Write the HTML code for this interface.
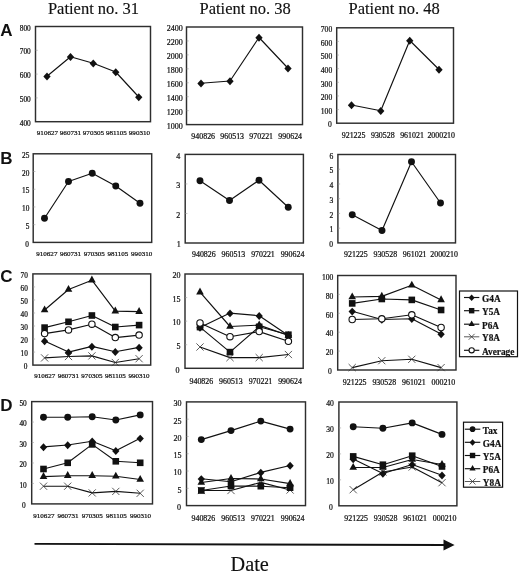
<!DOCTYPE html>
<html><head><meta charset="utf-8"><title>Figure</title>
<style>html,body{margin:0;padding:0;background:#fff;width:520px;height:573px;overflow:hidden}svg{display:block;will-change:transform}</style>
</head><body><svg width="520" height="573" viewBox="0 0 520 573"><style>.tk{font-family:"Liberation Serif",serif;fill:#111;stroke:#111;stroke-width:0.22px}.lg{font-family:"Liberation Serif",serif;font-weight:bold;font-size:9.3px;fill:#111;stroke:#111;stroke-width:0.2px}.ti{font-family:"Liberation Serif",serif;font-size:16.5px;fill:#111;stroke:#111;stroke-width:0.15px}.pl{font-family:"Liberation Sans",sans-serif;font-weight:bold;font-size:17px;fill:#111}</style><rect width="520" height="573" fill="#fff"/><text x="47.9" y="14.2" class="ti">Patient no. 31</text><text x="199.5" y="14.2" class="ti">Patient no. 38</text><text x="348.5" y="14.2" class="ti">Patient no. 48</text><text x="0.3" y="36.0" class="pl">A</text><text x="0.3" y="164.0" class="pl">B</text><text x="0.3" y="282.3" class="pl">C</text><text x="0.3" y="411.0" class="pl">D</text><rect x="35.5" y="26.5" width="115.00" height="95.20" fill="none" stroke="#2e2e2e" stroke-width="1.45"/><text x="30.70" y="30.61" text-anchor="end" class="tk" font-size="7.3">800</text><line x1="35.5" y1="50.30" x2="37.7" y2="50.30" stroke="#999" stroke-width="0.6"/><text x="30.70" y="54.41" text-anchor="end" class="tk" font-size="7.3">700</text><line x1="35.5" y1="74.10" x2="37.7" y2="74.10" stroke="#999" stroke-width="0.6"/><text x="30.70" y="78.21" text-anchor="end" class="tk" font-size="7.3">600</text><line x1="35.5" y1="97.90" x2="37.7" y2="97.90" stroke="#999" stroke-width="0.6"/><text x="30.70" y="102.01" text-anchor="end" class="tk" font-size="7.3">500</text><text x="30.70" y="125.81" text-anchor="end" class="tk" font-size="7.3">400</text><text x="47.40" y="135.20" text-anchor="middle" class="tk" font-size="7.05">910627</text><text x="70.40" y="135.20" text-anchor="middle" class="tk" font-size="7.05">960731</text><text x="93.40" y="135.20" text-anchor="middle" class="tk" font-size="7.05">970305</text><text x="116.40" y="135.20" text-anchor="middle" class="tk" font-size="7.05">981105</text><text x="139.40" y="135.20" text-anchor="middle" class="tk" font-size="7.05">990310</text><polyline points="47.00,76.25 70.50,56.75 93.25,63.25 115.75,72.00 138.75,97.00" fill="none" stroke="#111" stroke-width="1.15" stroke-linejoin="round"/><path d="M47.00 72.60L50.65 76.55L47.00 80.50L43.35 76.55Z" fill="#111"/><path d="M70.50 53.10L74.15 57.05L70.50 61.00L66.85 57.05Z" fill="#111"/><path d="M93.25 59.60L96.90 63.55L93.25 67.50L89.60 63.55Z" fill="#111"/><path d="M115.75 68.35L119.40 72.30L115.75 76.25L112.10 72.30Z" fill="#111"/><path d="M138.75 93.35L142.40 97.30L138.75 101.25L135.10 97.30Z" fill="#111"/><rect x="186.5" y="27.0" width="116.00" height="97.60" fill="none" stroke="#2e2e2e" stroke-width="1.45"/><text x="182.70" y="31.34" text-anchor="end" class="tk" font-size="8.0">2400</text><line x1="186.5" y1="40.94" x2="188.7" y2="40.94" stroke="#999" stroke-width="0.6"/><text x="182.70" y="45.28" text-anchor="end" class="tk" font-size="8.0">2200</text><line x1="186.5" y1="54.89" x2="188.7" y2="54.89" stroke="#999" stroke-width="0.6"/><text x="182.70" y="59.23" text-anchor="end" class="tk" font-size="8.0">2000</text><line x1="186.5" y1="68.83" x2="188.7" y2="68.83" stroke="#999" stroke-width="0.6"/><text x="182.70" y="73.17" text-anchor="end" class="tk" font-size="8.0">1800</text><line x1="186.5" y1="82.77" x2="188.7" y2="82.77" stroke="#999" stroke-width="0.6"/><text x="182.70" y="87.11" text-anchor="end" class="tk" font-size="8.0">1600</text><line x1="186.5" y1="96.71" x2="188.7" y2="96.71" stroke="#999" stroke-width="0.6"/><text x="182.70" y="101.05" text-anchor="end" class="tk" font-size="8.0">1400</text><line x1="186.5" y1="110.66" x2="188.7" y2="110.66" stroke="#999" stroke-width="0.6"/><text x="182.70" y="115.00" text-anchor="end" class="tk" font-size="8.0">1200</text><text x="182.70" y="128.94" text-anchor="end" class="tk" font-size="8.0">1000</text><text x="203.20" y="139.20" text-anchor="middle" class="tk" font-size="7.9">940826</text><text x="232.20" y="139.20" text-anchor="middle" class="tk" font-size="7.9">960513</text><text x="261.20" y="139.20" text-anchor="middle" class="tk" font-size="7.9">970221</text><text x="290.20" y="139.20" text-anchor="middle" class="tk" font-size="7.9">990624</text><polyline points="201.00,83.25 230.00,81.00 259.00,37.50 288.00,68.25" fill="none" stroke="#111" stroke-width="1.15" stroke-linejoin="round"/><path d="M201.00 79.60L204.65 83.55L201.00 87.50L197.35 83.55Z" fill="#111"/><path d="M230.00 77.35L233.65 81.30L230.00 85.25L226.35 81.30Z" fill="#111"/><path d="M259.00 33.85L262.65 37.80L259.00 41.75L255.35 37.80Z" fill="#111"/><path d="M288.00 64.60L291.65 68.55L288.00 72.50L284.35 68.55Z" fill="#111"/><rect x="336.7" y="27.8" width="116.80" height="95.40" fill="none" stroke="#2e2e2e" stroke-width="1.45"/><text x="332.20" y="32.01" text-anchor="end" class="tk" font-size="7.6">700</text><line x1="336.7" y1="41.43" x2="338.9" y2="41.43" stroke="#999" stroke-width="0.6"/><text x="332.20" y="45.64" text-anchor="end" class="tk" font-size="7.6">600</text><line x1="336.7" y1="55.06" x2="338.9" y2="55.06" stroke="#999" stroke-width="0.6"/><text x="332.20" y="59.27" text-anchor="end" class="tk" font-size="7.6">500</text><line x1="336.7" y1="68.69" x2="338.9" y2="68.69" stroke="#999" stroke-width="0.6"/><text x="332.20" y="72.89" text-anchor="end" class="tk" font-size="7.6">400</text><line x1="336.7" y1="82.31" x2="338.9" y2="82.31" stroke="#999" stroke-width="0.6"/><text x="332.20" y="86.52" text-anchor="end" class="tk" font-size="7.6">300</text><line x1="336.7" y1="95.94" x2="338.9" y2="95.94" stroke="#999" stroke-width="0.6"/><text x="332.20" y="100.15" text-anchor="end" class="tk" font-size="7.6">200</text><line x1="336.7" y1="109.57" x2="338.9" y2="109.57" stroke="#999" stroke-width="0.6"/><text x="332.20" y="113.78" text-anchor="end" class="tk" font-size="7.6">100</text><text x="331.70" y="127.41" text-anchor="end" class="tk" font-size="7.6">0</text><text x="353.60" y="137.60" text-anchor="middle" class="tk" font-size="7.9">921225</text><text x="382.80" y="137.60" text-anchor="middle" class="tk" font-size="7.9">930528</text><text x="412.00" y="137.60" text-anchor="middle" class="tk" font-size="7.9">961021</text><text x="441.20" y="137.60" text-anchor="middle" class="tk" font-size="7.9">2000210</text><polyline points="351.50,105.00 380.75,110.75 409.75,40.50 439.00,69.50" fill="none" stroke="#111" stroke-width="1.15" stroke-linejoin="round"/><path d="M351.50 101.35L355.15 105.30L351.50 109.25L347.85 105.30Z" fill="#111"/><path d="M380.75 107.10L384.40 111.05L380.75 115.00L377.10 111.05Z" fill="#111"/><path d="M409.75 36.85L413.40 40.80L409.75 44.75L406.10 40.80Z" fill="#111"/><path d="M439.00 65.85L442.65 69.80L439.00 73.75L435.35 69.80Z" fill="#111"/><rect x="33.2" y="153.8" width="118.50" height="88.60" fill="none" stroke="#2e2e2e" stroke-width="1.45"/><text x="29.40" y="157.91" text-anchor="end" class="tk" font-size="7.3">25</text><line x1="33.2" y1="171.52" x2="35.400000000000006" y2="171.52" stroke="#999" stroke-width="0.6"/><text x="29.40" y="175.63" text-anchor="end" class="tk" font-size="7.3">20</text><line x1="33.2" y1="189.24" x2="35.400000000000006" y2="189.24" stroke="#999" stroke-width="0.6"/><text x="29.40" y="193.35" text-anchor="end" class="tk" font-size="7.3">15</text><line x1="33.2" y1="206.96" x2="35.400000000000006" y2="206.96" stroke="#999" stroke-width="0.6"/><text x="29.40" y="211.07" text-anchor="end" class="tk" font-size="7.3">10</text><line x1="33.2" y1="224.68" x2="35.400000000000006" y2="224.68" stroke="#999" stroke-width="0.6"/><text x="29.40" y="228.79" text-anchor="end" class="tk" font-size="7.3">5</text><text x="28.90" y="246.51" text-anchor="end" class="tk" font-size="7.3">0</text><text x="46.85" y="256.00" text-anchor="middle" class="tk" font-size="7.05">910627</text><text x="70.55" y="256.00" text-anchor="middle" class="tk" font-size="7.05">960731</text><text x="94.25" y="256.00" text-anchor="middle" class="tk" font-size="7.05">970305</text><text x="117.95" y="256.00" text-anchor="middle" class="tk" font-size="7.05">981105</text><text x="141.65" y="256.00" text-anchor="middle" class="tk" font-size="7.05">990310</text><polyline points="44.50,218.25 68.50,181.50 92.25,173.25 115.75,186.00 140.00,203.25" fill="none" stroke="#111" stroke-width="1.15" stroke-linejoin="round"/><circle cx="44.50" cy="218.25" r="3.45" fill="#111"/><circle cx="68.50" cy="181.50" r="3.45" fill="#111"/><circle cx="92.25" cy="173.25" r="3.45" fill="#111"/><circle cx="115.75" cy="186.00" r="3.45" fill="#111"/><circle cx="140.00" cy="203.25" r="3.45" fill="#111"/><rect x="185.2" y="154.4" width="118.20" height="88.60" fill="none" stroke="#2e2e2e" stroke-width="1.45"/><text x="180.20" y="158.74" text-anchor="end" class="tk" font-size="8.0">4</text><line x1="185.2" y1="183.93" x2="187.39999999999998" y2="183.93" stroke="#999" stroke-width="0.6"/><text x="180.20" y="188.27" text-anchor="end" class="tk" font-size="8.0">3</text><line x1="185.2" y1="213.47" x2="187.39999999999998" y2="213.47" stroke="#999" stroke-width="0.6"/><text x="180.20" y="217.81" text-anchor="end" class="tk" font-size="8.0">2</text><text x="180.70" y="247.34" text-anchor="end" class="tk" font-size="8.0">1</text><text x="203.88" y="257.40" text-anchor="middle" class="tk" font-size="7.9">940826</text><text x="233.42" y="257.40" text-anchor="middle" class="tk" font-size="7.9">960513</text><text x="262.97" y="257.40" text-anchor="middle" class="tk" font-size="7.9">970221</text><text x="292.52" y="257.40" text-anchor="middle" class="tk" font-size="7.9">990624</text><polyline points="200.00,180.75 229.50,200.50 259.00,180.25 288.25,207.25" fill="none" stroke="#111" stroke-width="1.15" stroke-linejoin="round"/><circle cx="200.00" cy="180.75" r="3.45" fill="#111"/><circle cx="229.50" cy="200.50" r="3.45" fill="#111"/><circle cx="259.00" cy="180.25" r="3.45" fill="#111"/><circle cx="288.25" cy="207.25" r="3.45" fill="#111"/><rect x="337.9" y="154.5" width="117.60" height="88.40" fill="none" stroke="#2e2e2e" stroke-width="1.45"/><text x="333.40" y="158.71" text-anchor="end" class="tk" font-size="7.6">6</text><line x1="337.9" y1="169.23" x2="340.09999999999997" y2="169.23" stroke="#999" stroke-width="0.6"/><text x="333.40" y="173.44" text-anchor="end" class="tk" font-size="7.6">5</text><line x1="337.9" y1="183.97" x2="340.09999999999997" y2="183.97" stroke="#999" stroke-width="0.6"/><text x="333.40" y="188.17" text-anchor="end" class="tk" font-size="7.6">4</text><line x1="337.9" y1="198.70" x2="340.09999999999997" y2="198.70" stroke="#999" stroke-width="0.6"/><text x="333.40" y="202.91" text-anchor="end" class="tk" font-size="7.6">3</text><line x1="337.9" y1="213.43" x2="340.09999999999997" y2="213.43" stroke="#999" stroke-width="0.6"/><text x="333.40" y="217.64" text-anchor="end" class="tk" font-size="7.6">2</text><line x1="337.9" y1="228.17" x2="340.09999999999997" y2="228.17" stroke="#999" stroke-width="0.6"/><text x="333.40" y="232.37" text-anchor="end" class="tk" font-size="7.6">1</text><text x="333.10" y="247.11" text-anchor="end" class="tk" font-size="7.6">0</text><text x="355.90" y="257.40" text-anchor="middle" class="tk" font-size="7.9">921225</text><text x="385.30" y="257.40" text-anchor="middle" class="tk" font-size="7.9">930528</text><text x="414.70" y="257.40" text-anchor="middle" class="tk" font-size="7.9">961021</text><text x="444.10" y="257.40" text-anchor="middle" class="tk" font-size="7.9">2000210</text><polyline points="352.25,214.75 382.00,230.50 411.50,161.75 440.50,203.00" fill="none" stroke="#111" stroke-width="1.15" stroke-linejoin="round"/><circle cx="352.25" cy="214.75" r="3.45" fill="#111"/><circle cx="382.00" cy="230.50" r="3.45" fill="#111"/><circle cx="411.50" cy="161.75" r="3.45" fill="#111"/><circle cx="440.50" cy="203.00" r="3.45" fill="#111"/><rect x="32.9" y="273.9" width="117.80" height="91.20" fill="none" stroke="#2e2e2e" stroke-width="1.45"/><text x="27.90" y="278.01" text-anchor="end" class="tk" font-size="7.3">70</text><line x1="32.9" y1="286.93" x2="35.1" y2="286.93" stroke="#999" stroke-width="0.6"/><text x="27.90" y="291.04" text-anchor="end" class="tk" font-size="7.3">60</text><line x1="32.9" y1="299.96" x2="35.1" y2="299.96" stroke="#999" stroke-width="0.6"/><text x="27.90" y="304.07" text-anchor="end" class="tk" font-size="7.3">50</text><line x1="32.9" y1="312.99" x2="35.1" y2="312.99" stroke="#999" stroke-width="0.6"/><text x="27.90" y="317.09" text-anchor="end" class="tk" font-size="7.3">40</text><line x1="32.9" y1="326.01" x2="35.1" y2="326.01" stroke="#999" stroke-width="0.6"/><text x="27.90" y="330.12" text-anchor="end" class="tk" font-size="7.3">30</text><line x1="32.9" y1="339.04" x2="35.1" y2="339.04" stroke="#999" stroke-width="0.6"/><text x="27.90" y="343.15" text-anchor="end" class="tk" font-size="7.3">20</text><line x1="32.9" y1="352.07" x2="35.1" y2="352.07" stroke="#999" stroke-width="0.6"/><text x="27.90" y="356.18" text-anchor="end" class="tk" font-size="7.3">10</text><text x="27.40" y="369.21" text-anchor="end" class="tk" font-size="7.3">0</text><text x="44.78" y="378.20" text-anchor="middle" class="tk" font-size="7.05">910627</text><text x="68.34" y="378.20" text-anchor="middle" class="tk" font-size="7.05">960731</text><text x="91.90" y="378.20" text-anchor="middle" class="tk" font-size="7.05">970305</text><text x="115.46" y="378.20" text-anchor="middle" class="tk" font-size="7.05">981105</text><text x="139.02" y="378.20" text-anchor="middle" class="tk" font-size="7.05">990310</text><polyline points="44.60,341.00 68.50,352.10 91.90,346.40 115.30,351.70 139.10,347.40" fill="none" stroke="#111" stroke-width="1.15" stroke-linejoin="round"/><polyline points="44.60,327.60 68.50,321.80 91.90,315.50 115.30,327.00 139.10,325.10" fill="none" stroke="#111" stroke-width="1.15" stroke-linejoin="round"/><polyline points="44.60,310.00 68.50,289.50 91.90,280.20 115.30,311.10 139.10,311.60" fill="none" stroke="#111" stroke-width="1.15" stroke-linejoin="round"/><polyline points="44.60,357.90 68.50,356.50 91.90,355.90 115.30,362.50 139.10,358.70" fill="none" stroke="#111" stroke-width="1.15" stroke-linejoin="round"/><polyline points="44.60,333.60 68.50,329.90 91.90,324.20 115.30,337.60 139.10,335.10" fill="none" stroke="#111" stroke-width="1.15" stroke-linejoin="round"/><path d="M41.00 354.30L48.20 361.50M48.20 354.30L41.00 361.50" stroke="#333" stroke-width="0.8" fill="none"/><path d="M64.90 352.90L72.10 360.10M72.10 352.90L64.90 360.10" stroke="#333" stroke-width="0.8" fill="none"/><path d="M88.30 352.30L95.50 359.50M95.50 352.30L88.30 359.50" stroke="#333" stroke-width="0.8" fill="none"/><path d="M111.70 358.90L118.90 366.10M118.90 358.90L111.70 366.10" stroke="#333" stroke-width="0.8" fill="none"/><path d="M135.50 355.10L142.70 362.30M142.70 355.10L135.50 362.30" stroke="#333" stroke-width="0.8" fill="none"/><path d="M44.60 337.35L48.25 341.30L44.60 345.25L40.95 341.30Z" fill="#111"/><path d="M68.50 348.45L72.15 352.40L68.50 356.35L64.85 352.40Z" fill="#111"/><path d="M91.90 342.75L95.55 346.70L91.90 350.65L88.25 346.70Z" fill="#111"/><path d="M115.30 348.05L118.95 352.00L115.30 355.95L111.65 352.00Z" fill="#111"/><path d="M139.10 343.75L142.75 347.70L139.10 351.65L135.45 347.70Z" fill="#111"/><rect x="41.30" y="324.30" width="6.60" height="6.60" fill="#111"/><rect x="65.20" y="318.50" width="6.60" height="6.60" fill="#111"/><rect x="88.60" y="312.20" width="6.60" height="6.60" fill="#111"/><rect x="112.00" y="323.70" width="6.60" height="6.60" fill="#111"/><rect x="135.80" y="321.80" width="6.60" height="6.60" fill="#111"/><path d="M44.60 305.40L48.40 312.30L40.80 312.30Z" fill="#111"/><path d="M68.50 284.90L72.30 291.80L64.70 291.80Z" fill="#111"/><path d="M91.90 275.60L95.70 282.50L88.10 282.50Z" fill="#111"/><path d="M115.30 306.50L119.10 313.40L111.50 313.40Z" fill="#111"/><path d="M139.10 307.00L142.90 313.90L135.30 313.90Z" fill="#111"/><circle cx="44.60" cy="333.60" r="3.20" fill="#fff" stroke="#111" stroke-width="1.1"/><circle cx="68.50" cy="329.90" r="3.20" fill="#fff" stroke="#111" stroke-width="1.1"/><circle cx="91.90" cy="324.20" r="3.20" fill="#fff" stroke="#111" stroke-width="1.1"/><circle cx="115.30" cy="337.60" r="3.20" fill="#fff" stroke="#111" stroke-width="1.1"/><circle cx="139.10" cy="335.10" r="3.20" fill="#fff" stroke="#111" stroke-width="1.1"/><rect x="185.0" y="274.0" width="118.20" height="94.30" fill="none" stroke="#2e2e2e" stroke-width="1.45"/><text x="180.50" y="278.34" text-anchor="end" class="tk" font-size="8.0">20</text><line x1="185.0" y1="297.57" x2="187.2" y2="297.57" stroke="#999" stroke-width="0.6"/><text x="180.50" y="301.91" text-anchor="end" class="tk" font-size="8.0">15</text><line x1="185.0" y1="321.15" x2="187.2" y2="321.15" stroke="#999" stroke-width="0.6"/><text x="180.50" y="325.49" text-anchor="end" class="tk" font-size="8.0">10</text><line x1="185.0" y1="344.73" x2="187.2" y2="344.73" stroke="#999" stroke-width="0.6"/><text x="180.50" y="349.06" text-anchor="end" class="tk" font-size="8.0">5</text><text x="179.50" y="372.64" text-anchor="end" class="tk" font-size="8.0">0</text><text x="201.38" y="384.00" text-anchor="middle" class="tk" font-size="7.9">940826</text><text x="230.92" y="384.00" text-anchor="middle" class="tk" font-size="7.9">960513</text><text x="260.48" y="384.00" text-anchor="middle" class="tk" font-size="7.9">970221</text><text x="290.02" y="384.00" text-anchor="middle" class="tk" font-size="7.9">990624</text><polyline points="200.00,327.50 230.00,313.10 259.20,315.70 288.40,335.50" fill="none" stroke="#111" stroke-width="1.15" stroke-linejoin="round"/><polyline points="200.00,327.10 230.00,352.10 259.20,326.80 288.40,334.70" fill="none" stroke="#111" stroke-width="1.15" stroke-linejoin="round"/><polyline points="200.00,292.20 230.00,326.50 259.20,325.10 288.40,335.50" fill="none" stroke="#111" stroke-width="1.15" stroke-linejoin="round"/><polyline points="200.00,347.00 230.00,357.60 259.20,357.60 288.40,354.50" fill="none" stroke="#111" stroke-width="1.15" stroke-linejoin="round"/><polyline points="200.00,323.00 230.00,336.70 259.20,331.60 288.40,341.30" fill="none" stroke="#111" stroke-width="1.15" stroke-linejoin="round"/><path d="M196.40 343.40L203.60 350.60M203.60 343.40L196.40 350.60" stroke="#333" stroke-width="0.8" fill="none"/><path d="M226.40 354.00L233.60 361.20M233.60 354.00L226.40 361.20" stroke="#333" stroke-width="0.8" fill="none"/><path d="M255.60 354.00L262.80 361.20M262.80 354.00L255.60 361.20" stroke="#333" stroke-width="0.8" fill="none"/><path d="M284.80 350.90L292.00 358.10M292.00 350.90L284.80 358.10" stroke="#333" stroke-width="0.8" fill="none"/><path d="M200.00 323.85L203.65 327.80L200.00 331.75L196.35 327.80Z" fill="#111"/><path d="M230.00 309.45L233.65 313.40L230.00 317.35L226.35 313.40Z" fill="#111"/><path d="M259.20 312.05L262.85 316.00L259.20 319.95L255.55 316.00Z" fill="#111"/><path d="M288.40 331.85L292.05 335.80L288.40 339.75L284.75 335.80Z" fill="#111"/><rect x="196.70" y="323.80" width="6.60" height="6.60" fill="#111"/><rect x="226.70" y="348.80" width="6.60" height="6.60" fill="#111"/><rect x="255.90" y="323.50" width="6.60" height="6.60" fill="#111"/><rect x="285.10" y="331.40" width="6.60" height="6.60" fill="#111"/><path d="M200.00 287.60L203.80 294.50L196.20 294.50Z" fill="#111"/><path d="M230.00 321.90L233.80 328.80L226.20 328.80Z" fill="#111"/><path d="M259.20 320.50L263.00 327.40L255.40 327.40Z" fill="#111"/><path d="M288.40 330.90L292.20 337.80L284.60 337.80Z" fill="#111"/><circle cx="200.00" cy="323.00" r="3.20" fill="#fff" stroke="#111" stroke-width="1.1"/><circle cx="230.00" cy="336.70" r="3.20" fill="#fff" stroke="#111" stroke-width="1.1"/><circle cx="259.20" cy="331.60" r="3.20" fill="#fff" stroke="#111" stroke-width="1.1"/><circle cx="288.40" cy="341.30" r="3.20" fill="#fff" stroke="#111" stroke-width="1.1"/><rect x="337.7" y="275.5" width="118.30" height="94.50" fill="none" stroke="#2e2e2e" stroke-width="1.45"/><text x="333.40" y="279.71" text-anchor="end" class="tk" font-size="7.6">100</text><line x1="337.7" y1="294.40" x2="339.9" y2="294.40" stroke="#999" stroke-width="0.6"/><text x="333.40" y="298.61" text-anchor="end" class="tk" font-size="7.6">80</text><line x1="337.7" y1="313.30" x2="339.9" y2="313.30" stroke="#999" stroke-width="0.6"/><text x="333.40" y="317.51" text-anchor="end" class="tk" font-size="7.6">60</text><line x1="337.7" y1="332.20" x2="339.9" y2="332.20" stroke="#999" stroke-width="0.6"/><text x="333.40" y="336.41" text-anchor="end" class="tk" font-size="7.6">40</text><line x1="337.7" y1="351.10" x2="339.9" y2="351.10" stroke="#999" stroke-width="0.6"/><text x="333.40" y="355.31" text-anchor="end" class="tk" font-size="7.6">20</text><text x="331.70" y="374.21" text-anchor="end" class="tk" font-size="7.6">0</text><text x="354.69" y="384.50" text-anchor="middle" class="tk" font-size="7.9">921225</text><text x="384.26" y="384.50" text-anchor="middle" class="tk" font-size="7.9">930528</text><text x="413.84" y="384.50" text-anchor="middle" class="tk" font-size="7.9">961021</text><text x="443.41" y="384.50" text-anchor="middle" class="tk" font-size="7.9">000210</text><polyline points="352.20,311.30 381.80,319.50 411.80,318.80 441.10,334.00" fill="none" stroke="#111" stroke-width="1.15" stroke-linejoin="round"/><polyline points="352.20,303.40 381.80,299.00 411.80,299.90 441.10,310.00" fill="none" stroke="#111" stroke-width="1.15" stroke-linejoin="round"/><polyline points="352.20,297.00 381.80,296.40 411.80,285.30 441.10,299.90" fill="none" stroke="#111" stroke-width="1.15" stroke-linejoin="round"/><polyline points="352.20,367.60 381.80,360.70 411.80,359.30 441.10,367.60" fill="none" stroke="#111" stroke-width="1.15" stroke-linejoin="round"/><polyline points="352.20,319.50 381.80,318.80 411.80,314.80 441.10,327.50" fill="none" stroke="#111" stroke-width="1.15" stroke-linejoin="round"/><path d="M348.60 364.00L355.80 371.20M355.80 364.00L348.60 371.20" stroke="#333" stroke-width="0.8" fill="none"/><path d="M378.20 357.10L385.40 364.30M385.40 357.10L378.20 364.30" stroke="#333" stroke-width="0.8" fill="none"/><path d="M408.20 355.70L415.40 362.90M415.40 355.70L408.20 362.90" stroke="#333" stroke-width="0.8" fill="none"/><path d="M437.50 364.00L444.70 371.20M444.70 364.00L437.50 371.20" stroke="#333" stroke-width="0.8" fill="none"/><path d="M352.20 307.65L355.85 311.60L352.20 315.55L348.55 311.60Z" fill="#111"/><path d="M381.80 315.85L385.45 319.80L381.80 323.75L378.15 319.80Z" fill="#111"/><path d="M411.80 315.15L415.45 319.10L411.80 323.05L408.15 319.10Z" fill="#111"/><path d="M441.10 330.35L444.75 334.30L441.10 338.25L437.45 334.30Z" fill="#111"/><rect x="348.90" y="300.10" width="6.60" height="6.60" fill="#111"/><rect x="378.50" y="295.70" width="6.60" height="6.60" fill="#111"/><rect x="408.50" y="296.60" width="6.60" height="6.60" fill="#111"/><rect x="437.80" y="306.70" width="6.60" height="6.60" fill="#111"/><path d="M352.20 292.40L356.00 299.30L348.40 299.30Z" fill="#111"/><path d="M381.80 291.80L385.60 298.70L378.00 298.70Z" fill="#111"/><path d="M411.80 280.70L415.60 287.60L408.00 287.60Z" fill="#111"/><path d="M441.10 295.30L444.90 302.20L437.30 302.20Z" fill="#111"/><circle cx="352.20" cy="319.50" r="3.20" fill="#fff" stroke="#111" stroke-width="1.1"/><circle cx="381.80" cy="318.80" r="3.20" fill="#fff" stroke="#111" stroke-width="1.1"/><circle cx="411.80" cy="314.80" r="3.20" fill="#fff" stroke="#111" stroke-width="1.1"/><circle cx="441.10" cy="327.50" r="3.20" fill="#fff" stroke="#111" stroke-width="1.1"/><rect x="31.7" y="401.6" width="120.80" height="102.30" fill="none" stroke="#2e2e2e" stroke-width="1.45"/><text x="26.70" y="405.71" text-anchor="end" class="tk" font-size="7.3">50</text><line x1="31.7" y1="422.06" x2="33.9" y2="422.06" stroke="#999" stroke-width="0.6"/><text x="26.70" y="426.17" text-anchor="end" class="tk" font-size="7.3">40</text><line x1="31.7" y1="442.52" x2="33.9" y2="442.52" stroke="#999" stroke-width="0.6"/><text x="26.70" y="446.63" text-anchor="end" class="tk" font-size="7.3">30</text><line x1="31.7" y1="462.98" x2="33.9" y2="462.98" stroke="#999" stroke-width="0.6"/><text x="26.70" y="467.09" text-anchor="end" class="tk" font-size="7.3">20</text><line x1="31.7" y1="483.44" x2="33.9" y2="483.44" stroke="#999" stroke-width="0.6"/><text x="26.70" y="487.55" text-anchor="end" class="tk" font-size="7.3">10</text><text x="25.70" y="508.01" text-anchor="end" class="tk" font-size="7.3">0</text><text x="43.88" y="517.80" text-anchor="middle" class="tk" font-size="7.05">910627</text><text x="68.04" y="517.80" text-anchor="middle" class="tk" font-size="7.05">960731</text><text x="92.20" y="517.80" text-anchor="middle" class="tk" font-size="7.05">970305</text><text x="116.36" y="517.80" text-anchor="middle" class="tk" font-size="7.05">981105</text><text x="140.52" y="517.80" text-anchor="middle" class="tk" font-size="7.05">990310</text><polyline points="43.50,417.20 67.70,417.20 92.20,416.80 115.80,420.00 140.20,414.90" fill="none" stroke="#111" stroke-width="1.15" stroke-linejoin="round"/><polyline points="43.50,446.90 67.70,445.00 92.20,441.20 115.80,450.70 140.20,438.30" fill="none" stroke="#111" stroke-width="1.15" stroke-linejoin="round"/><polyline points="43.50,469.00 67.70,462.80 92.20,444.40 115.80,461.30 140.20,462.80" fill="none" stroke="#111" stroke-width="1.15" stroke-linejoin="round"/><polyline points="43.50,476.60 67.70,475.70 92.20,475.70 115.80,476.30 140.20,479.50" fill="none" stroke="#111" stroke-width="1.15" stroke-linejoin="round"/><polyline points="43.50,486.20 67.70,486.20 92.20,492.90 115.80,491.40 140.20,493.30" fill="none" stroke="#111" stroke-width="1.15" stroke-linejoin="round"/><path d="M39.90 482.60L47.10 489.80M47.10 482.60L39.90 489.80" stroke="#333" stroke-width="0.8" fill="none"/><path d="M64.10 482.60L71.30 489.80M71.30 482.60L64.10 489.80" stroke="#333" stroke-width="0.8" fill="none"/><path d="M88.60 489.30L95.80 496.50M95.80 489.30L88.60 496.50" stroke="#333" stroke-width="0.8" fill="none"/><path d="M112.20 487.80L119.40 495.00M119.40 487.80L112.20 495.00" stroke="#333" stroke-width="0.8" fill="none"/><path d="M136.60 489.70L143.80 496.90M143.80 489.70L136.60 496.90" stroke="#333" stroke-width="0.8" fill="none"/><circle cx="43.50" cy="417.20" r="3.45" fill="#111"/><circle cx="67.70" cy="417.20" r="3.45" fill="#111"/><circle cx="92.20" cy="416.80" r="3.45" fill="#111"/><circle cx="115.80" cy="420.00" r="3.45" fill="#111"/><circle cx="140.20" cy="414.90" r="3.45" fill="#111"/><path d="M43.50 443.25L47.15 447.20L43.50 451.15L39.85 447.20Z" fill="#111"/><path d="M67.70 441.35L71.35 445.30L67.70 449.25L64.05 445.30Z" fill="#111"/><path d="M92.20 437.55L95.85 441.50L92.20 445.45L88.55 441.50Z" fill="#111"/><path d="M115.80 447.05L119.45 451.00L115.80 454.95L112.15 451.00Z" fill="#111"/><path d="M140.20 434.65L143.85 438.60L140.20 442.55L136.55 438.60Z" fill="#111"/><rect x="40.20" y="465.70" width="6.60" height="6.60" fill="#111"/><rect x="64.40" y="459.50" width="6.60" height="6.60" fill="#111"/><rect x="88.90" y="441.10" width="6.60" height="6.60" fill="#111"/><rect x="112.50" y="458.00" width="6.60" height="6.60" fill="#111"/><rect x="136.90" y="459.50" width="6.60" height="6.60" fill="#111"/><path d="M43.50 472.00L47.30 478.90L39.70 478.90Z" fill="#111"/><path d="M67.70 471.10L71.50 478.00L63.90 478.00Z" fill="#111"/><path d="M92.20 471.10L96.00 478.00L88.40 478.00Z" fill="#111"/><path d="M115.80 471.70L119.60 478.60L112.00 478.60Z" fill="#111"/><path d="M140.20 474.90L144.00 481.80L136.40 481.80Z" fill="#111"/><rect x="186.5" y="401.9" width="119.00" height="103.70" fill="none" stroke="#2e2e2e" stroke-width="1.45"/><text x="181.50" y="406.24" text-anchor="end" class="tk" font-size="8.0">30</text><line x1="186.5" y1="419.18" x2="188.7" y2="419.18" stroke="#999" stroke-width="0.6"/><text x="181.50" y="423.52" text-anchor="end" class="tk" font-size="8.0">25</text><line x1="186.5" y1="436.47" x2="188.7" y2="436.47" stroke="#999" stroke-width="0.6"/><text x="181.50" y="440.81" text-anchor="end" class="tk" font-size="8.0">20</text><line x1="186.5" y1="453.75" x2="188.7" y2="453.75" stroke="#999" stroke-width="0.6"/><text x="181.50" y="458.09" text-anchor="end" class="tk" font-size="8.0">15</text><line x1="186.5" y1="471.03" x2="188.7" y2="471.03" stroke="#999" stroke-width="0.6"/><text x="181.50" y="475.37" text-anchor="end" class="tk" font-size="8.0">10</text><line x1="186.5" y1="488.32" x2="188.7" y2="488.32" stroke="#999" stroke-width="0.6"/><text x="181.50" y="492.66" text-anchor="end" class="tk" font-size="8.0">5</text><text x="181.00" y="509.94" text-anchor="end" class="tk" font-size="8.0">0</text><text x="203.38" y="520.50" text-anchor="middle" class="tk" font-size="7.9">940826</text><text x="233.12" y="520.50" text-anchor="middle" class="tk" font-size="7.9">960513</text><text x="262.88" y="520.50" text-anchor="middle" class="tk" font-size="7.9">970221</text><text x="292.62" y="520.50" text-anchor="middle" class="tk" font-size="7.9">990624</text><polyline points="201.30,439.60 231.00,430.60 260.80,421.10 290.10,429.10" fill="none" stroke="#111" stroke-width="1.15" stroke-linejoin="round"/><polyline points="201.30,478.80 231.00,481.80 260.80,472.40 290.10,465.50" fill="none" stroke="#111" stroke-width="1.15" stroke-linejoin="round"/><polyline points="201.30,490.50 231.00,486.00 260.80,486.20 290.10,487.70" fill="none" stroke="#111" stroke-width="1.15" stroke-linejoin="round"/><polyline points="201.30,482.50 231.00,478.50 260.80,479.00 290.10,483.60" fill="none" stroke="#111" stroke-width="1.15" stroke-linejoin="round"/><polyline points="201.30,490.50 231.00,490.50 260.80,482.40 290.10,490.00" fill="none" stroke="#111" stroke-width="1.15" stroke-linejoin="round"/><path d="M197.70 486.90L204.90 494.10M204.90 486.90L197.70 494.10" stroke="#333" stroke-width="0.8" fill="none"/><path d="M227.40 486.90L234.60 494.10M234.60 486.90L227.40 494.10" stroke="#333" stroke-width="0.8" fill="none"/><path d="M257.20 478.80L264.40 486.00M264.40 478.80L257.20 486.00" stroke="#333" stroke-width="0.8" fill="none"/><path d="M286.50 486.40L293.70 493.60M293.70 486.40L286.50 493.60" stroke="#333" stroke-width="0.8" fill="none"/><circle cx="201.30" cy="439.60" r="3.45" fill="#111"/><circle cx="231.00" cy="430.60" r="3.45" fill="#111"/><circle cx="260.80" cy="421.10" r="3.45" fill="#111"/><circle cx="290.10" cy="429.10" r="3.45" fill="#111"/><path d="M201.30 475.15L204.95 479.10L201.30 483.05L197.65 479.10Z" fill="#111"/><path d="M231.00 478.15L234.65 482.10L231.00 486.05L227.35 482.10Z" fill="#111"/><path d="M260.80 468.75L264.45 472.70L260.80 476.65L257.15 472.70Z" fill="#111"/><path d="M290.10 461.85L293.75 465.80L290.10 469.75L286.45 465.80Z" fill="#111"/><rect x="198.00" y="487.20" width="6.60" height="6.60" fill="#111"/><rect x="227.70" y="482.70" width="6.60" height="6.60" fill="#111"/><rect x="257.50" y="482.90" width="6.60" height="6.60" fill="#111"/><rect x="286.80" y="484.40" width="6.60" height="6.60" fill="#111"/><path d="M201.30 477.90L205.10 484.80L197.50 484.80Z" fill="#111"/><path d="M231.00 473.90L234.80 480.80L227.20 480.80Z" fill="#111"/><path d="M260.80 474.40L264.60 481.30L257.00 481.30Z" fill="#111"/><path d="M290.10 479.00L293.90 485.90L286.30 485.90Z" fill="#111"/><rect x="338.9" y="402.0" width="118.00" height="103.80" fill="none" stroke="#2e2e2e" stroke-width="1.45"/><text x="333.90" y="406.21" text-anchor="end" class="tk" font-size="7.6">40</text><line x1="338.9" y1="427.95" x2="341.09999999999997" y2="427.95" stroke="#999" stroke-width="0.6"/><text x="333.90" y="432.16" text-anchor="end" class="tk" font-size="7.6">30</text><line x1="338.9" y1="453.90" x2="341.09999999999997" y2="453.90" stroke="#999" stroke-width="0.6"/><text x="333.90" y="458.11" text-anchor="end" class="tk" font-size="7.6">20</text><line x1="338.9" y1="479.85" x2="341.09999999999997" y2="479.85" stroke="#999" stroke-width="0.6"/><text x="333.90" y="484.06" text-anchor="end" class="tk" font-size="7.6">10</text><text x="332.90" y="510.01" text-anchor="end" class="tk" font-size="7.6">0</text><text x="356.15" y="520.50" text-anchor="middle" class="tk" font-size="7.9">921225</text><text x="385.65" y="520.50" text-anchor="middle" class="tk" font-size="7.9">930528</text><text x="415.15" y="520.50" text-anchor="middle" class="tk" font-size="7.9">961021</text><text x="444.65" y="520.50" text-anchor="middle" class="tk" font-size="7.9">000210</text><polyline points="353.20,426.80 382.90,428.30 412.20,422.90 442.00,434.40" fill="none" stroke="#111" stroke-width="1.15" stroke-linejoin="round"/><polyline points="353.20,459.00 382.90,473.50 412.20,464.50 442.00,475.20" fill="none" stroke="#111" stroke-width="1.15" stroke-linejoin="round"/><polyline points="353.20,456.40 382.90,464.70 412.20,455.70 442.00,466.50" fill="none" stroke="#111" stroke-width="1.15" stroke-linejoin="round"/><polyline points="353.20,467.50 382.90,467.50 412.20,459.50 442.00,464.50" fill="none" stroke="#111" stroke-width="1.15" stroke-linejoin="round"/><polyline points="353.20,489.70 382.90,472.00 412.20,467.00 442.00,482.70" fill="none" stroke="#111" stroke-width="1.15" stroke-linejoin="round"/><path d="M349.60 486.10L356.80 493.30M356.80 486.10L349.60 493.30" stroke="#333" stroke-width="0.8" fill="none"/><path d="M379.30 468.40L386.50 475.60M386.50 468.40L379.30 475.60" stroke="#333" stroke-width="0.8" fill="none"/><path d="M408.60 463.40L415.80 470.60M415.80 463.40L408.60 470.60" stroke="#333" stroke-width="0.8" fill="none"/><path d="M438.40 479.10L445.60 486.30M445.60 479.10L438.40 486.30" stroke="#333" stroke-width="0.8" fill="none"/><circle cx="353.20" cy="426.80" r="3.45" fill="#111"/><circle cx="382.90" cy="428.30" r="3.45" fill="#111"/><circle cx="412.20" cy="422.90" r="3.45" fill="#111"/><circle cx="442.00" cy="434.40" r="3.45" fill="#111"/><path d="M353.20 455.35L356.85 459.30L353.20 463.25L349.55 459.30Z" fill="#111"/><path d="M382.90 469.85L386.55 473.80L382.90 477.75L379.25 473.80Z" fill="#111"/><path d="M412.20 460.85L415.85 464.80L412.20 468.75L408.55 464.80Z" fill="#111"/><path d="M442.00 471.55L445.65 475.50L442.00 479.45L438.35 475.50Z" fill="#111"/><rect x="349.90" y="453.10" width="6.60" height="6.60" fill="#111"/><rect x="379.60" y="461.40" width="6.60" height="6.60" fill="#111"/><rect x="408.90" y="452.40" width="6.60" height="6.60" fill="#111"/><rect x="438.70" y="463.20" width="6.60" height="6.60" fill="#111"/><path d="M353.20 462.90L357.00 469.80L349.40 469.80Z" fill="#111"/><path d="M382.90 462.90L386.70 469.80L379.10 469.80Z" fill="#111"/><path d="M412.20 454.90L416.00 461.80L408.40 461.80Z" fill="#111"/><path d="M442.00 459.90L445.80 466.80L438.20 466.80Z" fill="#111"/><rect x="459.5" y="291.0" width="58.00" height="65.70" fill="#fff" stroke="#111" stroke-width="1.2"/><line x1="464.0" y1="297.5" x2="479.3" y2="297.5" stroke="#111" stroke-width="1.15"/><path d="M471.65 294.51L474.64 297.75L471.65 300.98L468.66 297.75Z" fill="#111"/><text x="482.0" y="301.90" class="lg">G4A</text><line x1="464.0" y1="310.7" x2="479.3" y2="310.7" stroke="#111" stroke-width="1.15"/><rect x="468.94" y="307.99" width="5.41" height="5.41" fill="#111"/><text x="482.0" y="315.10" class="lg">Y5A</text><line x1="464.0" y1="324.2" x2="479.3" y2="324.2" stroke="#111" stroke-width="1.15"/><path d="M471.65 320.43L474.77 326.09L468.53 326.09Z" fill="#111"/><text x="482.0" y="328.60" class="lg">P6A</text><line x1="464.0" y1="336.8" x2="479.3" y2="336.8" stroke="#111" stroke-width="0.7"/><path d="M468.70 333.85L474.60 339.75M474.60 333.85L468.70 339.75" stroke="#333" stroke-width="0.8" fill="none"/><text x="482.0" y="341.20" class="lg">Y8A</text><line x1="464.0" y1="350.3" x2="479.3" y2="350.3" stroke="#111" stroke-width="1.15"/><circle cx="471.65" cy="350.30" r="2.62" fill="#fff" stroke="#111" stroke-width="1.1"/><text x="482.0" y="354.70" class="lg">Average</text><rect x="463.5" y="422.2" width="39.10" height="65.00" fill="#fff" stroke="#111" stroke-width="1.2"/><line x1="464.8" y1="429.2" x2="480.3" y2="429.2" stroke="#111" stroke-width="1.15"/><circle cx="472.55" cy="429.20" r="2.83" fill="#111"/><text x="482.8" y="433.60" class="lg">Tax</text><line x1="464.8" y1="442.3" x2="480.3" y2="442.3" stroke="#111" stroke-width="1.15"/><path d="M472.55 439.31L475.54 442.55L472.55 445.78L469.56 442.55Z" fill="#111"/><text x="482.8" y="446.70" class="lg">G4A</text><line x1="464.8" y1="455.5" x2="480.3" y2="455.5" stroke="#111" stroke-width="1.15"/><rect x="469.84" y="452.79" width="5.41" height="5.41" fill="#111"/><text x="482.8" y="459.90" class="lg">Y5A</text><line x1="464.8" y1="468.7" x2="480.3" y2="468.7" stroke="#111" stroke-width="1.15"/><path d="M472.55 464.93L475.67 470.59L469.43 470.59Z" fill="#111"/><text x="482.8" y="473.10" class="lg">P6A</text><line x1="464.8" y1="481.5" x2="480.3" y2="481.5" stroke="#111" stroke-width="0.7"/><path d="M469.60 478.55L475.50 484.45M475.50 478.55L469.60 484.45" stroke="#333" stroke-width="0.8" fill="none"/><text x="482.8" y="485.90" class="lg">Y8A</text><line x1="34.5" y1="543.9" x2="444" y2="545" stroke="#111" stroke-width="1.9"/><path d="M443.5 539.6L454.6 545L443.5 550.4Z" fill="#111"/><text x="230.5" y="571.0" class="ti" style="font-size:20.3px">Date</text></svg></body></html>
